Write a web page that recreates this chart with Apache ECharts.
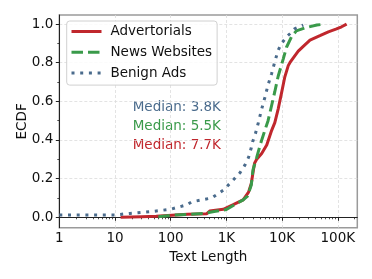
<!DOCTYPE html>
<html>
<head>
<meta charset="utf-8">
<script src="https://cdn.jsdelivr.net/npm/echarts@6/dist/echarts.min.js"></script>
<style>
html,body{margin:0;padding:0;background:#fff;}
#c{width:372px;height:279px;}
</style>
</head>
<body>
<div id="c"></div>
<script>
// ---- data ----
const seriesNames = ['Advertorials', 'News Websites', 'Benign Ads'];

const advX = [12.6, 30, 55, 57, 200, 440, 500, 880, 1300, 2000, 2500, 2800, 3000, 3200, 3500, 4300, 5300, 6500, 7400, 8500, 9800, 11200, 12900, 13800, 15900, 19500, 24000, 31700, 47800, 67700, 95000, 117000, 144000];
const advY = [0, 0.003, 0.005, 0.012, 0.015, 0.018, 0.032, 0.041, 0.064, 0.09, 0.13, 0.175, 0.23, 0.28, 0.30, 0.33, 0.374, 0.45, 0.49, 0.56, 0.645, 0.727, 0.785, 0.80, 0.825, 0.86, 0.885, 0.917, 0.94, 0.96, 0.975, 0.986, 1.0];

const newsX = [60, 100, 200, 400, 600, 1000, 1500, 2000, 2400, 2800, 3000, 3500, 4100, 4900, 5600, 6500, 7400, 8500, 10500, 12000, 14800, 18000, 25700, 42000, 59000];
const newsY = [0.003, 0.01, 0.015, 0.02, 0.03, 0.04, 0.07, 0.09, 0.11, 0.167, 0.245, 0.31, 0.38, 0.45, 0.5, 0.58, 0.65, 0.73, 0.82, 0.88, 0.935, 0.965, 0.98, 0.995, 1.0];

const benignX = [1, 10, 18.6, 43, 98, 194, 238, 360, 546, 880, 1250, 1750, 2150, 2500, 2800, 2950, 3300, 3750, 4300, 4900, 5600, 6500, 7400, 8500, 9800, 12000, 13800, 17000, 24000];
const benignY = [0.012, 0.012, 0.02, 0.029, 0.041, 0.064, 0.08, 0.09, 0.10, 0.14, 0.185, 0.23, 0.27, 0.31, 0.36, 0.39, 0.43, 0.49, 0.56, 0.62, 0.685, 0.745, 0.805, 0.865, 0.90, 0.934, 0.95, 0.977, 0.995];

const xTickValues = [1, 10, 100, 1000, 10000, 100000];
const xTickLabels = ['1', '10', '100', '1K', '10K', '100K'];
const xMinorValues = [];
[1, 10, 100, 1000, 10000, 100000].forEach(function (d) { for (let k = 2; k <= 9; k++) { if (d * k <= 224000) xMinorValues.push(d * k); } });
const yTickValues = [0, 0.2, 0.4, 0.6, 0.8, 1.0];
const yMinorValues = [0.1, 0.3, 0.5, 0.7, 0.9];

const medianTexts = ['Median: 3.8K', 'Median: 5.5K', 'Median: 7.7K'];

// ---- styling ----
const colors = ['#c0272d', '#3a9a4a', '#4a6b8c'];
const FONT = 'DejaVu Sans';
const FS = 13.5;

function pairs(xs, ys) { return xs.map(function (x, i) { return [x, ys[i]]; }); }

const chart = echarts.init(document.getElementById('c'), null, { renderer: 'canvas' });

chart.setOption({
  animation: false,
  textStyle: { fontFamily: FONT },
  grid: { left: 59.3, right: 14.7, top: 15, bottom: 51.3, show: true, borderColor: '#9a9a9a', borderWidth: 1.5, backgroundColor: 'transparent' },
  legend: {
    orient: 'vertical',
    left: 66.7,
    top: 21,
    itemWidth: 30,
    itemHeight: 14,
    itemGap: 6.8,
    padding: [3.5, 5, 5, 3.3],
    borderColor: '#d0d0d0',
    borderWidth: 1,
    borderRadius: 3,
    backgroundColor: 'rgba(255,255,255,0.85)',
    itemStyle: { opacity: 0 },
    lineStyle: { width: 3 },
    textStyle: { fontFamily: FONT, fontSize: FS, color: '#111', padding: [0, 0, 0, 4] },
    data: seriesNames
  },
  xAxis: [{
    type: 'log',
    logBase: 10,
    min: 1,
    max: 224000,
    name: 'Text Length',
    nameLocation: 'middle',
    nameGap: 22.5,
    nameMoveOverlap: false,
    nameTextStyle: { fontFamily: FONT, fontSize: FS, color: '#111' },
    axisLine: { show: true, lineStyle: { color: '#222', width: 1 } },
    axisTick: { show: true, length: 3.5, customValues: xTickValues, lineStyle: { color: '#222', width: 1 } },
    axisLabel: {
      customValues: xTickValues,
      margin: 4,
      fontFamily: FONT, fontSize: FS, color: '#111',
      formatter: function (v) {
        const i = xTickValues.findIndex(function (t) { return Math.abs(Math.log10(t) - Math.log10(v)) < 1e-6; });
        return i >= 0 ? xTickLabels[i] : '';
      }
    },
    splitLine: { show: true, lineStyle: { color: '#dcdcdc', width: 0.8, type: [3, 2] } }
  }, {
    type: 'log',
    logBase: 10,
    min: 1,
    max: 224000,
    position: 'bottom',
    axisLine: { show: false },
    axisTick: { show: true, length: 2, customValues: xMinorValues, lineStyle: { color: '#222', width: 0.8 } },
    axisLabel: { show: false },
    splitLine: { show: false }
  }],
  yAxis: [{
    type: 'value',
    min: -0.054,
    max: 1.047,
    name: 'ECDF',
    nameLocation: 'middle',
    nameGap: 30,
    nameMoveOverlap: false,
    nameTextStyle: { fontFamily: FONT, fontSize: FS, color: '#111' },
    axisLine: { show: true, lineStyle: { color: '#222', width: 1 } },
    axisTick: { show: true, length: 3.5, customValues: yTickValues, lineStyle: { color: '#222', width: 1 } },
    axisLabel: {
      customValues: yTickValues,
      margin: 6,
      fontFamily: FONT, fontSize: FS, color: '#111',
      formatter: function (v) { return v.toFixed(1); }
    },
    splitLine: { show: true, lineStyle: { color: '#dcdcdc', width: 0.8, type: [3, 2] } }
  }, {
    type: 'value',
    min: -0.054,
    max: 1.047,
    position: 'left',
    axisLine: { show: false },
    axisTick: { show: true, length: 2, customValues: yMinorValues, lineStyle: { color: '#222', width: 0.8 } },
    axisLabel: { show: false },
    splitLine: { show: false }
  }],
  series: [{
    name: seriesNames[0],
    type: 'line',
    data: pairs(advX, advY),
    showSymbol: false,
    symbol: 'none',
    z: 3,
    color: colors[0],
    lineStyle: { color: colors[0], width: 3, type: 'solid' }
  }, {
    name: seriesNames[1],
    type: 'line',
    data: pairs(newsX, newsY),
    showSymbol: false,
    symbol: 'none',
    z: 4,
    color: colors[1],
    lineStyle: { color: colors[1], width: 3, type: [11.5, 5] }
  }, {
    name: seriesNames[2],
    type: 'line',
    data: pairs(benignX, benignY),
    showSymbol: false,
    symbol: 'none',
    z: 5,
    color: colors[2],
    lineStyle: { color: colors[2], width: 3, type: [3, 5.7] }
  }],
  graphic: [
    { type: 'text', left: 132.7, top: 107.3 - 7, style: { text: medianTexts[0], fill: colors[2], font: FS + 'px "DejaVu Sans"' } },
    { type: 'text', left: 132.7, top: 126 - 7, style: { text: medianTexts[1], fill: colors[1], font: FS + 'px "DejaVu Sans"' } },
    { type: 'text', left: 132.7, top: 145.3 - 7, style: { text: medianTexts[2], fill: colors[0], font: FS + 'px "DejaVu Sans"' } }
  ]
});
</script>
</body>
</html>
